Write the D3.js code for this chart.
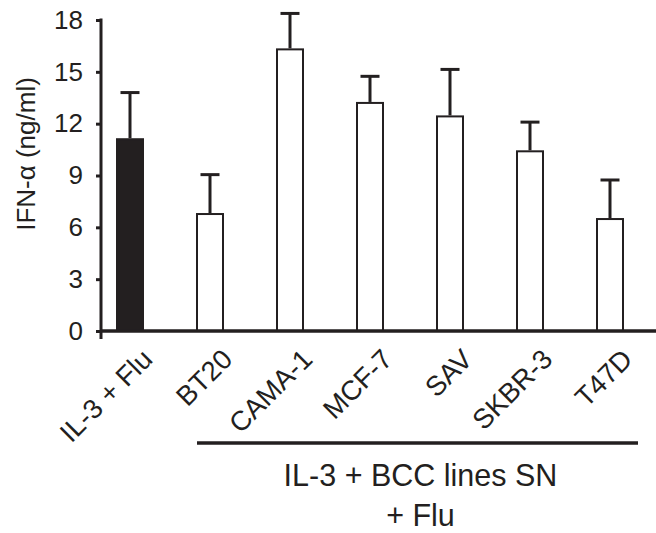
<!DOCTYPE html>
<html>
<head>
<meta charset="utf-8">
<script src="https://cdn.jsdelivr.net/npm/d3@7"></script>
<style>
  html, body { margin: 0; padding: 0; background: #fff; }
  svg { display: block; font-family: "Liberation Sans", Arial, Helvetica, sans-serif; }
</style>
</head>
<body>
<svg id="chart" width="656" height="533"></svg>
<script>
// ---- data ----
const categories = ["IL-3 + Flu", "BT20", "CAMA-1", "MCF-7", "SAV", "SKBR-3", "T47D"];
const means = [11.1, 6.77, 16.3, 13.2, 12.42, 10.4, 6.48];
const errors = [2.7, 2.28, 2.08, 1.54, 2.72, 1.69, 2.26];
const filled = [true, false, false, false, false, false, false];
const yTicks = [0, 3, 6, 9, 12, 15, 18];
const yLabel = "IFN-\u03b1 (ng/ml)";
const groupLabel = ["IL-3 + BCC lines SN", "+ Flu"];
const groupStart = "BT20", groupEnd = "T47D";

// ---- layout ----
const ink = "#231f20";
const svg = d3.select("#chart");
const axisX = 101, axisRight = 656;
const y = d3.scaleLinear().domain([0, 18]).range([331, 20]);
const x = d3.scalePoint().domain(categories).range([130, 610]);
const bw = 26, capW = 19;

// bars
svg.append("g").selectAll("rect").data(categories).join("rect")
  .attr("x", d => x(d) - bw / 2)
  .attr("y", (d, i) => y(means[i]))
  .attr("width", bw)
  .attr("height", (d, i) => y(0) - y(means[i]))
  .attr("fill", (d, i) => filled[i] ? ink : "#fff")
  .attr("stroke", ink)
  .attr("stroke-width", 2);

// error bars (upper only)
const eb = svg.append("g").attr("stroke", ink).attr("stroke-width", 3);
eb.selectAll("line.v").data(categories).join("line").attr("class", "v")
  .attr("x1", d => x(d)).attr("x2", d => x(d))
  .attr("y1", (d, i) => y(means[i]) - 1)
  .attr("y2", (d, i) => y(means[i] + errors[i]));
eb.selectAll("line.c").data(categories).join("line").attr("class", "c")
  .attr("x1", d => x(d) - capW / 2).attr("x2", d => x(d) + capW / 2)
  .attr("y1", (d, i) => y(means[i] + errors[i]))
  .attr("y2", (d, i) => y(means[i] + errors[i]));

// y axis
const yAxis = svg.append("g").attr("transform", `translate(${axisX},0)`)
  .call(d3.axisLeft(y).tickValues(yTicks).tickSize(5).tickSizeOuter(0).tickPadding(13));
yAxis.select(".domain").remove();
yAxis.selectAll(".tick line").attr("stroke", ink).attr("stroke-width", 3);
yAxis.selectAll(".tick text").attr("fill", ink).attr("font-size", 26)
  .attr("font-family", "Liberation Sans, Arial, sans-serif");
yAxis.append("line").attr("x1", 0).attr("x2", 0)
  .attr("y1", y(18) - 1.5).attr("y2", y(0) + 8)
  .attr("stroke", ink).attr("stroke-width", 3);

// x axis line
svg.append("line").attr("x1", axisX).attr("x2", axisRight)
  .attr("y1", y(0)).attr("y2", y(0))
  .attr("stroke", ink).attr("stroke-width", 3.5);

// rotated category labels
svg.append("g").selectAll("text").data(categories).join("text")
  .attr("transform", d => `translate(${x(d) + 24},${y(0) + 30}) rotate(-45)`)
  .attr("text-anchor", "end")
  .attr("font-size", 27.5)
  .attr("fill", ink)
  .text(d => d);

// y label
svg.append("text")
  .attr("transform", `translate(35,154) rotate(-90)`)
  .attr("text-anchor", "middle")
  .attr("font-size", 26)
  .attr("fill", ink)
  .text(yLabel);

// group bracket
const bx1 = x(groupStart) - 13, bx2 = x(groupEnd) + 28;
svg.append("line")
  .attr("x1", bx1).attr("x2", bx2)
  .attr("y1", 443).attr("y2", 443)
  .attr("stroke", ink).attr("stroke-width", 3.5);

const gx = (bx1 + bx2) / 2 + 3;
svg.append("g").selectAll("text").data(groupLabel).join("text")
  .attr("x", gx)
  .attr("y", (d, i) => 486 + i * 40)
  .attr("text-anchor", "middle")
  .attr("font-size", 30.5)
  .attr("fill", ink)
  .text(d => d);
</script>
</body>
</html>
